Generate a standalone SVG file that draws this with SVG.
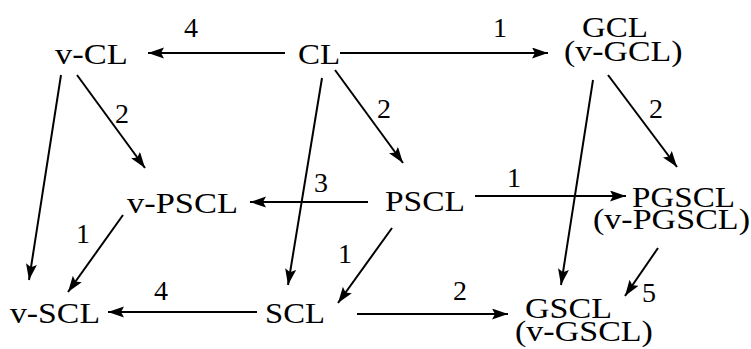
<svg xmlns="http://www.w3.org/2000/svg" width="751" height="349" viewBox="0 0 751 349">
<defs>
<marker id="ah" markerUnits="userSpaceOnUse" markerWidth="18" markerHeight="12" refX="16" refY="5.5" orient="auto">
<path d="M0,0 L16,5.5 L0,11 L3,5.5 z" fill="#000"/>
</marker>
</defs>
<rect width="751" height="349" fill="#fff"/>
<g id="connectors" stroke="#000" stroke-width="2" fill="none">
<line x1="285" y1="53" x2="148" y2="53" marker-end="url(#ah)"/>
<line x1="340" y1="53" x2="548" y2="53" marker-end="url(#ah)"/>
<line x1="77" y1="75" x2="145" y2="168" marker-end="url(#ah)"/>
<line x1="61" y1="75" x2="29" y2="280" marker-end="url(#ah)"/>
<line x1="322" y1="78" x2="288" y2="285" marker-end="url(#ah)"/>
<line x1="335" y1="70" x2="403" y2="163" marker-end="url(#ah)"/>
<line x1="593" y1="80" x2="561" y2="285" marker-end="url(#ah)"/>
<line x1="608" y1="75" x2="677" y2="167" marker-end="url(#ah)"/>
<line x1="368" y1="202" x2="250" y2="202" marker-end="url(#ah)"/>
<line x1="475" y1="196" x2="626" y2="196" marker-end="url(#ah)"/>
<line x1="123" y1="215" x2="68" y2="292" marker-end="url(#ah)"/>
<line x1="392" y1="228" x2="338" y2="303" marker-end="url(#ah)"/>
<line x1="257" y1="312" x2="108" y2="312" marker-end="url(#ah)"/>
<line x1="357" y1="314" x2="508" y2="314" marker-end="url(#ah)"/>
<line x1="658" y1="248" x2="625" y2="296" marker-end="url(#ah)"/>
</g>
<g id="edge-labels" font-family="Liberation Serif, serif" font-size="28" fill="#000">
<text x="184" y="37">4</text>
<text x="493" y="37">1</text>
<text x="115" y="123">2</text>
<text x="377" y="118">2</text>
<text x="649" y="118">2</text>
<text x="314" y="192">3</text>
<text x="507" y="187">1</text>
<text x="76" y="243">1</text>
<text x="338" y="263">1</text>
<text x="154" y="300">4</text>
<text x="453" y="300">2</text>
<text x="642" y="302">5</text>
</g>
<g id="nodes" font-family="Liberation Serif, serif" font-size="30" fill="#000">
<g id="v-CL"><text transform="translate(55,64) scale(1.15,1)">v-CL</text></g>
<g id="CL"><text transform="translate(298,64) scale(1.1,1)">CL</text></g>
<g id="GCL"><text transform="translate(582,37) scale(1.1,1)">GCL</text>
<text transform="translate(564,61) scale(1.13,1)">(v-GCL)</text></g>
<g id="v-PSCL"><text transform="translate(127,213) scale(1.148,1)">v-PSCL</text></g>
<g id="PSCL"><text transform="translate(385,211) scale(1.116,1)">PSCL</text></g>
<g id="PGSCL"><text transform="translate(632,207) scale(1.103,1)">PGSCL</text>
<text transform="translate(593,229) scale(1.135,1)">(v-PGSCL)</text></g>
<g id="v-SCL"><text transform="translate(10,323) scale(1.125,1)">v-SCL</text></g>
<g id="SCL"><text transform="translate(265,323) scale(1.09,1)">SCL</text></g>
<g id="GSCL"><text transform="translate(525,318) scale(1.134,1)">GSCL</text>
<text transform="translate(515,341) scale(1.134,1)">(v-GSCL)</text></g>
</g>
</svg>
